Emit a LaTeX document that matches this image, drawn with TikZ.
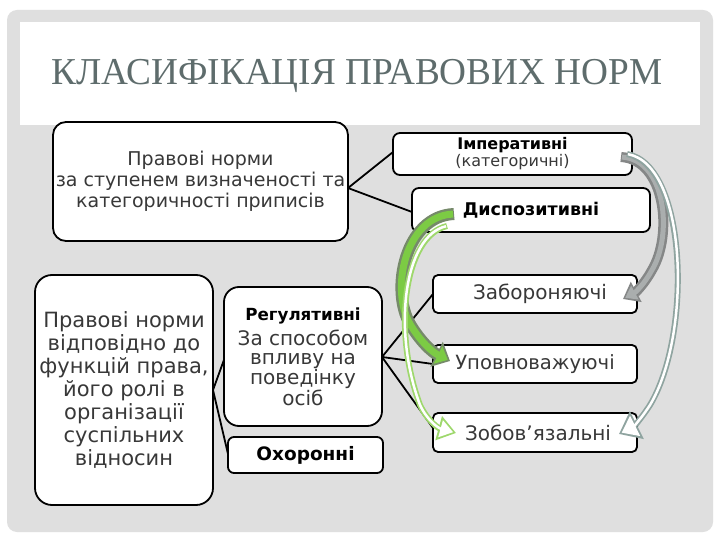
\documentclass[tikz,border=0pt]{standalone}
\usepackage{fontspec}
\setmainfont{DejaVu Sans}
\newfontfamily\titlefont{Liberation Serif}
\usetikzlibrary{arrows.meta}
\definecolor{bgframe}{HTML}{DFDFDF}
\definecolor{titlecol}{HTML}{5E6C6C}
\definecolor{txt}{HTML}{383838}
\definecolor{grnA}{HTML}{7CCB44}
\definecolor{grnB}{HTML}{768A6A}
\definecolor{lgrn}{HTML}{9ED86C}
\definecolor{gryA}{HTML}{858787}
\definecolor{gryB}{HTML}{AAAEAE}
\definecolor{tealg}{HTML}{8FA4A0}
\begin{document}
\begin{tikzpicture}[x=1pt,y=-1pt,
  box/.style={draw=black, line width=1.8pt, fill=white, rounded corners=#1,
    inner sep=0pt, align=center, text=txt},
  box/.default=6pt,
  conn/.style={line width=1.8pt, black},
]
\useasboundingbox (0,0) rectangle (720,540);
\fill[white] (0,0) rectangle (720,540);
\fill[bgframe, rounded corners=10pt] (7,10) rectangle (713,532);
\fill[white] (20,22) rectangle (700,125);

\node[text=titlecol, font=\titlefont\fontsize{38}{38}\selectfont, anchor=base, inner sep=0pt]
  (title) at (357,85) {\scalebox{0.98}[1]{КЛАСИФІКАЦІЯ ПРАВОВИХ НОРМ}};

% connectors
\coordinate (jA) at (348,188);
\coordinate (disp w) at (412,212);
\coordinate (jB) at (213,390);
\coordinate (jR) at (382,357);
\draw[conn] (393,152) -- (jA) -- (disp w);
\draw[conn] (225,357) -- (jB) -- (228,454);
\draw[conn] (433,294) -- (jR) -- (433,364);
\draw[conn] (jR) -- (433,428);

% boxes
\node[box=13pt, minimum width=295pt, minimum height=119pt,
  font=\fontsize{19}{21}\selectfont] (A) at (200.5,181.5)
  {Правові норми\\за ступенем визначеності та\\категоричності приписів};
\node[box=7pt, minimum width=239pt, minimum height=42pt,
  font=\fontsize{16}{17}\selectfont] (imp) at (512.5,154)
  {\textbf{\color{black}Імперативні}\\(категоричні)};
\node[box=7pt, minimum width=238pt, minimum height=44pt,
  font=\bfseries\fontsize{17.5}{18}\selectfont, text=black] (disp) at (531,210)
  {Диспозитивні};
\node[box=17pt, minimum width=178pt, minimum height=230pt,
  font=\fontsize{21}{23}\selectfont] (B) at (124,390)
  {Правові норми\\відповідно до\\функцій права,\\його ролі в\\організації\\суспільних\\відносин};
\node[box=15pt, minimum width=158pt, minimum height=139pt,
  font=\fontsize{20}{19}\selectfont] (reg) at (303,356.5)
  {{\bfseries\color{black}\fontsize{16.7}{20}\selectfont Регулятивні}\\[5pt]За способом\\впливу на\\поведінку\\осіб};
\node[box=6pt, minimum width=155pt, minimum height=36pt,
  font=\bfseries\fontsize{18.5}{20}\selectfont, text=black] (ohor) at (305.5,455) {Охоронні};
\node[box=5pt, minimum width=204pt, minimum height=38pt,
  font=\fontsize{20}{20}\selectfont] (zab) at (535,294) {\hspace{10pt}Забороняючі};
\node[box=5pt, minimum width=204pt, minimum height=38pt,
  font=\fontsize{19.6}{20}\selectfont] (upov) at (535,364) {Уповноважуючі};
\node[box=5pt, minimum width=204pt, minimum height=39pt,
  font=\fontsize{20}{20}\selectfont] (zob) at (535,432.5) {\hspace{6pt}Зобов’язальні};

% curved arrows
\def\pgreen{(454,214) .. controls (405,216) and (390,290) .. (410,324) .. controls (420,341) and (432,352) .. (450,361)}
\def\plgreen{(447,226) .. controls (404,236) and (392,330) .. (420,405) .. controls (427,420) and (438,428) .. (456,433)}
\def\pgray{(621,157) .. controls (666,160) and (673,235) .. (652,270) .. controls (645,283) and (636,292) .. (623,299)}
\def\pteal{(627,154) .. controls (688,165) and (692,335) .. (650,405) .. controls (641,419) and (633,427) .. (619,434)}

\draw[line width=12pt, grnB, -{Triangle[length=15pt,width=27pt]}] \pgreen;
\draw[line width=7pt, grnA, shorten >=2.5pt, shorten <=1pt, -{Triangle[length=11pt,width=19pt]}] \pgreen;

\draw[line width=6pt, lgrn, -{Triangle[length=18pt,width=24pt]}] \plgreen;
\draw[line width=2.5pt, white, shorten >=3pt, shorten <=1pt, -{Triangle[length=13pt,width=17pt]}] \plgreen;

\draw[line width=10pt, gryA, -{Triangle[length=15pt,width=22pt]}] \pgray;
\draw[line width=5pt, gryB, shorten >=2.5pt, shorten <=1pt, -{Triangle[length=11pt,width=15pt]}] \pgray;

\draw[line width=6pt, tealg, -{Triangle[length=20pt,width=30pt]}] \pteal;
\draw[line width=2.5pt, white, shorten >=3pt, shorten <=1pt, -{Triangle[length=15pt,width=22pt]}] \pteal;
\end{tikzpicture}
\end{document}
